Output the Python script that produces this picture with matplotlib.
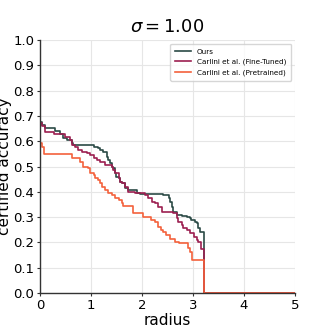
import matplotlib
matplotlib.use("Agg")
import matplotlib.pyplot as plt

# ---- data ----
ours_r = [0.0, 0.03, 0.10, 0.29, 0.39, 0.46, 0.52, 0.62, 0.65, 1.05, 1.14, 1.18, 1.24, 1.31, 1.34,
          1.37, 1.41, 1.44, 1.47, 1.50, 1.54, 1.57, 1.60, 1.67, 1.73, 1.90, 1.96, 2.42, 2.52, 2.55,
          2.58, 2.61, 2.68, 2.78, 2.88, 2.94, 2.97, 3.04, 3.07, 3.10, 3.14, 3.22, 5.0]
ours_acc = [0.677, 0.664, 0.651, 0.640, 0.627, 0.611, 0.605, 0.592, 0.585, 0.578, 0.572, 0.565, 0.558,
            0.539, 0.526, 0.512, 0.499, 0.493, 0.473, 0.460, 0.453, 0.440, 0.434, 0.414, 0.407, 0.394,
            0.391, 0.387, 0.374, 0.360, 0.341, 0.321, 0.308, 0.304, 0.300, 0.295, 0.289, 0.282, 0.275,
            0.255, 0.242, 0.0, 0.0]

ft_r = [0.0, 0.03, 0.10, 0.27, 0.49, 0.59, 0.62, 0.69, 0.75, 0.82, 0.92, 0.98, 1.05, 1.11, 1.18,
        1.27, 1.41, 1.44, 1.47, 1.54, 1.57, 1.60, 1.67, 1.73, 1.86, 2.06, 2.12, 2.19, 2.25, 2.32,
        2.39, 2.61, 2.68, 2.71, 2.78, 2.81, 2.88, 2.94, 3.01, 3.07, 3.10, 3.16, 3.22, 5.0]
ft_acc = [0.672, 0.660, 0.636, 0.628, 0.618, 0.605, 0.585, 0.578, 0.565, 0.558, 0.552, 0.545, 0.535,
          0.526, 0.519, 0.506, 0.499, 0.486, 0.473, 0.453, 0.440, 0.434, 0.418, 0.400, 0.394, 0.389,
          0.374, 0.360, 0.354, 0.341, 0.321, 0.315, 0.295, 0.282, 0.269, 0.255, 0.249, 0.236, 0.222,
          0.209, 0.203, 0.173, 0.0, 0.0]

pre_r = [0.0, 0.03, 0.08, 0.62, 0.78, 0.85, 0.95, 0.98, 1.05, 1.08, 1.14, 1.18, 1.21, 1.27, 1.34,
         1.41, 1.47, 1.54, 1.60, 1.63, 1.82, 2.02, 2.18, 2.25, 2.31, 2.37, 2.41, 2.47, 2.55, 2.65,
         2.73, 2.90, 2.94, 2.99, 3.22, 5.0]
pre_acc = [0.592, 0.578, 0.550, 0.535, 0.519, 0.499, 0.493, 0.473, 0.466, 0.453, 0.447, 0.434, 0.420,
           0.407, 0.394, 0.387, 0.374, 0.367, 0.354, 0.344, 0.315, 0.302, 0.289, 0.282, 0.262, 0.249,
           0.242, 0.229, 0.215, 0.203, 0.196, 0.177, 0.163, 0.130, 0.0, 0.0]

labels = ["Ours", "Carlini et al. (Fine-Tuned)", "Carlini et al. (Pretrained)"]
colors = ["#2b4a46", "#9c1f50", "#f4613c"]
title = r"$\sigma = 1.00$"

fig = plt.figure(figsize=(3.29, 3.29), dpi=100)
ax = fig.add_axes([0.1216, 0.1094, 0.775, 0.769])

for r, a, lab, c in zip([ours_r, ft_r, pre_r], [ours_acc, ft_acc, pre_acc], labels, colors):
    ax.plot(r, a, drawstyle="steps-post", color=c, lw=1.2, label=lab)

ax.set_xlim(0, 5)
ax.set_ylim(0, 1)
ax.set_xticks([0, 1, 2, 3, 4, 5])
ax.set_yticks([i / 10 for i in range(11)])
ax.grid(True, color="#e6e6e6", lw=0.8)
ax.set_axisbelow(True)
for s in ["top", "right"]:
    ax.spines[s].set_visible(False)
for s in ["left", "bottom"]:
    ax.spines[s].set_color("#333333")
    ax.spines[s].set_linewidth(1.0)
ax.tick_params(labelsize=9.5, length=2, pad=2, color="#333333")
ax.set_xlabel("radius", fontsize=11, labelpad=1)
ax.set_ylabel("certified accuracy", fontsize=11, labelpad=1)
ax.set_title(title, fontsize=13, pad=6)
ax.legend(loc="upper right", fontsize=5.2, frameon=True, handlelength=2.2, borderpad=0.7,
          labelspacing=0.55)

fig.savefig("out.png", dpi=100)
